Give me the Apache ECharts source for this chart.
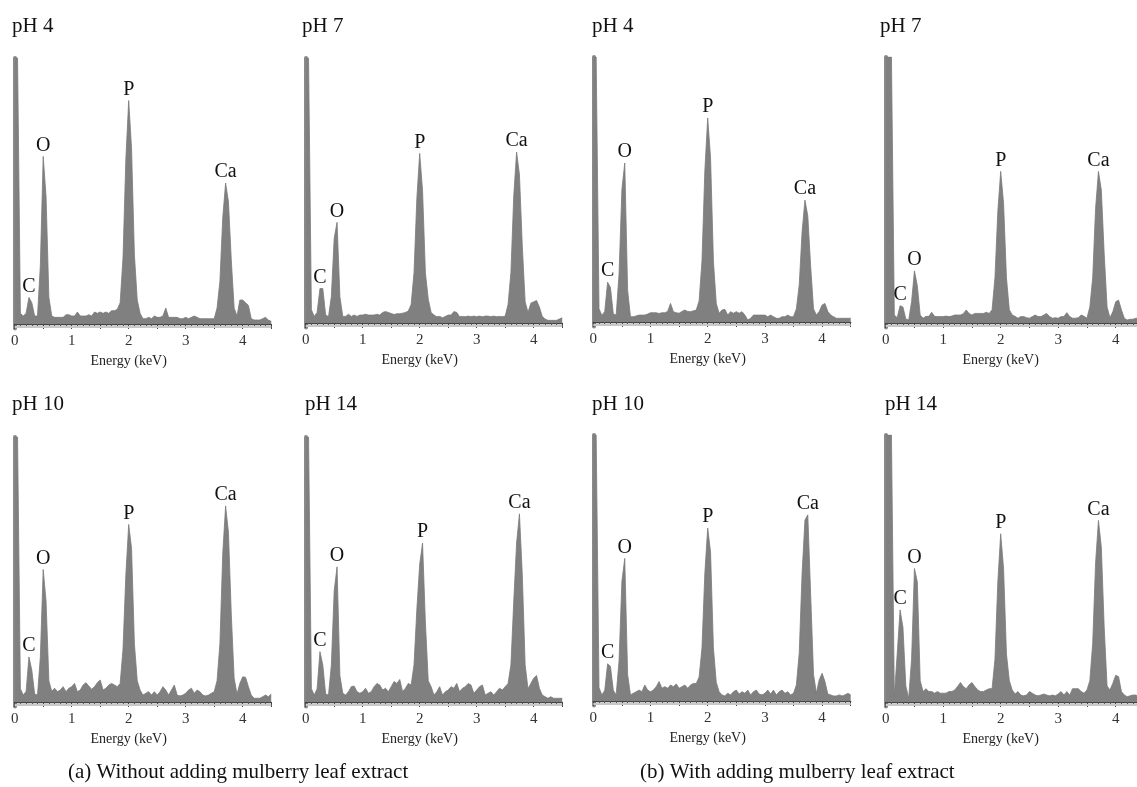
<!DOCTYPE html>
<html><head><meta charset="utf-8">
<script src="https://cdn.jsdelivr.net/npm/echarts@6/dist/echarts.min.js"></script>
<style>html,body{margin:0;padding:0;background:#fff}#c{width:1137px;height:787px}</style>
</head><body><div id="c"></div>
<script>
// Energy channels (keV), 0.05 keV step from 0 to 4.5
const energy = Array.from({length: 91}, (_, i) => Math.round(i * 5) / 100);

// Panel titles
const titlesTop = ['pH 4', 'pH 7', 'pH 4', 'pH 7'];
const titlesBottom = ['pH 10', 'pH 14', 'pH 10', 'pH 14'];
const captions = ['(a) Without adding mulberry leaf extract', '(b) With adding mulberry leaf extract'];
const xName = 'Energy (keV)';

// Peak names and their search windows (keV)
const peakNames = ['C', 'O', 'P', 'Ca'];
const peakWindows = [[0.2, 0.35], [0.4, 0.65], [1.85, 2.2], [3.55, 3.85]];

// Counts (relative intensity, % of panel height)
const a_pH4 = [100,100,4,3,4,10,8,3,3,22,
  63,48,10,3,2.5,2.5,2.5,2.5,3.5,3.5,
  3,3,4.5,3,3,3,3.5,3,4.5,4,
  4.5,4,4.5,4,5,5,5.5,8,25,62,
  84,66,26,9,4,2,2,2.5,2,3,
  2.5,2.5,3,6,2.5,2.5,2.5,2.5,2,2,
  2.5,2,2.5,3,2.5,2,2,2,2,2,
  2,6,16,40,53,46,24,6,3,9,
  9,8,7,2,1.5,1.5,1.5,2,2.5,1.5,
  1];
const a_pH7 = [100,100,5,2.5,4,13,13,3,2.4,10,
  32,38,10,2.5,2.5,3.3,2.5,3,2.5,3,
  3,3.3,3,3,3,3.3,3,4,4.3,4,
  3.6,3.2,3.5,3.5,3.7,4,4.5,7,19,47,
  64,50,19,9,4,3,2.4,2.5,2,2.5,
  3,3,4.3,4,2.4,2.5,2.4,2.6,2.4,2.6,
  2.4,2.6,2.4,2.6,2.6,2.4,2.6,2.4,2.5,2.4,
  2.6,7,19,48,64.5,56,29,8,4,7.5,
  8,8.5,6,2.5,1.5,1,1,1,1,1.5,
  2];
const b_pH4 = [100,100,5,2.5,4,15,13,3,2.6,18,
  50,60,12,2,2,2.3,2.6,2.6,2.6,3,
  3.5,3.5,3.5,3.2,3.5,3.5,4,7,3.9,3.5,
  3.3,4,4.5,4,3.9,4.2,4.5,8,23,57,
  77,62,23,7,3.3,4.5,4.8,2.6,3.9,3.3,
  3.9,3.3,3.9,2.6,0.8,1.4,2.6,2.6,2.6,2.6,
  2.6,2,2.6,2,1.4,1.4,2,2,2.6,2,
  2,5,14,34,46,40,21,5,2.6,4,
  6.4,7,4,2.6,2,1.4,1.4,1.4,1.4,1.4,
  1.4];
const b_pH7 = [100,100,100,3,2,6.5,6,1.5,1.1,8,
  19.6,14,3,1.8,2.5,2.5,4,2.5,2.4,2.4,
  2.4,2.6,2.4,2.6,3,3,3,3.5,4.9,3.6,
  3,3.6,3.6,3.6,3.6,4,3.6,5,17,42,
  57,45,17,5,3,2.5,1.8,2.4,2.4,2,
  1.8,2.4,3,2.4,2.4,3,3.6,2.4,1.8,2,
  1.8,2.4,2.4,3.9,2.4,1.8,1.8,2,3,2.5,
  1.8,6,17,43,57,50,26,6,2,4.2,
  8,8.6,4.9,1.8,1.1,1.4,1.4,1.8,1.8,1.8,
  1.8];
const a_pH10 = [100,100,5,2.6,4,17,12,3,2.6,17,
  50,38,8,4,5.2,3.9,4.5,5.8,3.9,5.2,
  5.8,7,3.9,4.5,6.4,7.3,6,4.8,5.8,7.3,
  8.3,4.5,5.2,6.4,7,6.4,5.8,7,20,48,
  67,58,22,8,4.5,2.6,3.3,3.9,2.6,3.9,
  2.6,3.9,5.8,4.5,2.6,4.5,6.4,2.6,2.3,2.6,
  3.3,4.5,5.2,3.3,4.5,3.9,2.6,2.3,2.6,3.3,
  3.9,8,22,56,74,64,33,9,3,7,
  9.5,9.3,5.8,2.6,1.4,1.4,1.4,2,2.6,2,
  3];
const a_pH14 = [100,100,5,2.6,5,19,14,3,2.6,14,
  42,51,10,3.3,2.6,3.9,5.8,6,3.9,3.3,
  3.9,5.2,3.3,3.9,5.8,7,6.4,4.5,5.2,3.9,
  5.8,7.7,7,8.5,3.9,5.2,7,6.4,14,35,
  52,60,30,8,5.8,2.6,3.9,5.8,2.6,3.9,
  4.5,5.8,5.2,7,3.9,5.2,5.8,7,6.4,3.3,
  4.5,5.8,6.4,2.6,3.3,3.9,2.6,3.9,5.2,4.5,
  5.8,7,14,38,60,71,48,14,5,7,
  9,10,5.2,2.6,2,1.4,2,1.4,1.4,1.4,
  1.4];
const b_pH10 = [100,100,5,2.3,4,14,13,4,2.3,15,
  45,53.6,10,2.3,2.9,3.5,4.1,3.5,6,4.1,
  3.5,4.1,5.4,7.3,4.8,5.4,4.8,6,5.4,6.4,
  4.8,5.4,6,4.8,6,6.6,6.6,9,20,48,
  65,56,20,7,3.5,2.3,1.9,2.9,2.3,3.5,
  4.1,2.6,3.5,2.9,4.1,2.3,3.5,4.1,2.6,2.3,
  2.9,4.1,2.6,4.1,2.3,3.5,4.1,2.9,3.5,2.3,
  2.9,6,18,48,68,70,40,10,3,8,
  10.4,7.3,2.6,2.3,1.9,1.9,2.3,1.9,2.3,2.9,
  2.3];
const b_pH14 = [100,100,100,2,18,34.5,28,6,1.4,16,
  50,45,8,3.9,5,3.9,3.9,3.3,3.9,3.3,
  3.3,3.3,3.9,3.9,4.5,5.8,7.3,5.8,5,6.4,
  7.3,5.8,4.5,3.9,3.9,4.5,5,5,16,45,
  63,50,18,8,4.5,3,3.9,2.6,2.3,2.6,
  3.9,3.3,2.6,2.3,2.6,3,2.6,2.3,2.6,2.3,
  3,3.9,2.6,3.9,2.6,5,5,5,3.9,3.3,
  4.5,8,22,52,68,58,28,6,4.5,7,
  10,9.5,3.9,2.6,2,2.3,2.6,2.6,2,2.6,
  2.6];

// Layout (pixels) for each panel
const SERIF = "'Liberation Serif', 'Times New Roman', 'DejaVu Serif', serif";
const panels = [
  {title: titlesTop[0], vals: a_pH4,  x0: 14.7,  ppk: 57,   top: 58,  base: 324, tx: 12,  ty: 16},
  {title: titlesTop[1], vals: a_pH7,  x0: 305.7, ppk: 57,   top: 58,  base: 323, tx: 302, ty: 16},
  {title: titlesTop[2], vals: b_pH4,  x0: 593.3, ppk: 57.2, top: 57,  base: 322, tx: 592, ty: 16},
  {title: titlesTop[3], vals: b_pH7,  x0: 885.7, ppk: 57.5, top: 57,  base: 323, tx: 880, ty: 16},
  {title: titlesBottom[0], vals: a_pH10, x0: 14.7,  ppk: 57,   top: 437, base: 702, tx: 12,  ty: 394},
  {title: titlesBottom[1], vals: a_pH14, x0: 305.7, ppk: 57,   top: 437, base: 702, tx: 305, ty: 394},
  {title: titlesBottom[2], vals: b_pH10, x0: 593.3, ppk: 57.2, top: 435, base: 701, tx: 592, ty: 394},
  {title: titlesBottom[3], vals: b_pH14, x0: 885.7, ppk: 57.5, top: 435, base: 702, tx: 885, ty: 394}
];
const YMIN = -1.7, YMAX = 100, XMAX = 4.5;

const grids = [], xAxes = [], yAxes = [], series = [], titles = [];
panels.forEach((p, i) => {
  const ppu = (p.base - p.top) / YMAX;
  const bottomY = p.base - YMIN * ppu;
  grids.push({left: p.x0, top: p.top, width: XMAX * p.ppk, height: bottomY - p.top,
              containLabel: false, outerBoundsMode: 'none'});
  xAxes.push({
    gridIndex: i, type: 'value', min: 0, max: XMAX, interval: 0.5,
    name: xName, nameLocation: 'middle', nameGap: 26,
    nameTextStyle: {fontFamily: SERIF, fontSize: 14, color: '#222', padding: [0, 0.5 * p.ppk, 0, 0]},
    axisLine: {show: true, lineStyle: {color: '#444', width: 1.3}},
    axisTick: {show: true, length: 5, lineStyle: {color: '#444', width: 1}},
    minorTick: {show: true, splitNumber: 5, length: 3, lineStyle: {color: '#555', width: 1}},
    splitLine: {show: false}, minorSplitLine: {show: false},
    axisLabel: {
      show: true, margin: 5, fontFamily: SERIF, fontSize: 15, color: '#333',
      formatter: v => (Math.abs(v - Math.round(v)) < 1e-6 && v < XMAX ? String(Math.round(v)) : '')
    }
  });
  yAxes.push({
    gridIndex: i, type: 'value', min: YMIN, max: YMAX, offset: 4,
    axisLine: {show: true, lineStyle: {color: '#8a8a8a', width: 4}},
    axisTick: {show: false}, axisLabel: {show: false}, splitLine: {show: false}
  });
  // peak positions found from the data
  const peakIdx = peakWindows.map(w => {
    let best = -1;
    energy.forEach((e, k) => {
      if (e >= w[0] - 1e-9 && e <= w[1] + 1e-9 && (best < 0 || p.vals[k] > p.vals[best])) best = k;
    });
    return best;
  });
  const data = energy.map((e, k) => {
    const j = peakIdx.indexOf(k);
    if (j >= 0) return {value: [e, p.vals[k]], label: {show: true, formatter: peakNames[j]}};
    return [e, p.vals[k]];
  });
  series.push({
    type: 'line', xAxisIndex: i, yAxisIndex: i, data,
    symbol: 'circle', symbolSize: 0.01, showSymbol: true, showAllSymbol: true,
    itemStyle: {color: '#7d7d7d'},
    lineStyle: {color: '#7a7a7a', width: 0.8},
    areaStyle: {color: '#808080', opacity: 1},
    label: {show: false, position: 'top', distance: 1, fontFamily: SERIF, fontSize: 20, color: '#111'},
    emphasis: {disabled: true}, silent: true, clip: true, animation: false,
    markLine: {
      silent: true, symbol: 'none', label: {show: false}, animation: false,
      lineStyle: {color: '#c8c8c8', width: 2, type: 'solid'},
      data: [{yAxis: -0.85}]
    }
  });
  titles.push({text: p.title, left: p.tx, top: p.ty, padding: 0,
    textStyle: {fontFamily: SERIF, fontSize: 21, fontWeight: 'normal', color: '#111'}});
});
titles.push({text: captions[0], left: 68, top: 762, padding: 0,
  textStyle: {fontFamily: SERIF, fontSize: 21, fontWeight: 'normal', color: '#111'}});
titles.push({text: captions[1], left: 640, top: 762, padding: 0,
  textStyle: {fontFamily: SERIF, fontSize: 21, fontWeight: 'normal', color: '#111'}});

const chart = echarts.init(document.getElementById('c'), null, {renderer: 'canvas'});
chart.setOption({
  backgroundColor: '#ffffff', animation: false,
  title: titles, grid: grids, xAxis: xAxes, yAxis: yAxes, series
});
</script></body></html>
